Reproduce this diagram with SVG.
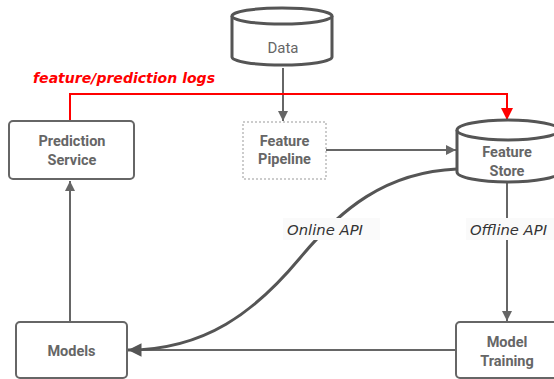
<svg xmlns="http://www.w3.org/2000/svg" width="554" height="379" viewBox="0 0 554 379">
<style>
.box{fill:#fff;stroke:#666;stroke-width:2}
.cyl{fill:#fff;stroke:#555;stroke-width:3}
.lbl{font-family:Roboto,"Liberation Sans",sans-serif;font-weight:bold;font-size:14.5px;fill:#666;text-anchor:middle}
.edge{fill:none;stroke:#666;stroke-width:2}
.edgeT{fill:none;stroke:#555;stroke-width:3}
.el{font-family:"DejaVu Sans","Liberation Sans",sans-serif;font-style:italic;font-size:14px;fill:#333}
</style>
<defs>
<marker id="ah" viewBox="0 0 10 10" refX="10" refY="5" markerWidth="5" markerHeight="5" orient="auto" markerUnits="strokeWidth"><path d="M0,0L10,5L0,10z" fill="#666"/></marker>
<marker id="ahb" viewBox="0 0 10 10" refX="10" refY="5" markerWidth="5" markerHeight="4.5" orient="auto" markerUnits="strokeWidth"><path d="M0,0L10,5L0,10z" fill="#555"/></marker>
<marker id="ahr" viewBox="0 0 10 10" refX="10" refY="5" markerWidth="6" markerHeight="6" orient="auto" markerUnits="strokeWidth"><path d="M0,0L10,5L0,10z" fill="#f00"/></marker>
</defs>
<g id="connectors">
<path class="edge" d="M283,68 V121" marker-end="url(#ah)"/>
<path class="edge" d="M326,150 H456" marker-end="url(#ah)"/>
<path fill="none" stroke="#f00" stroke-width="2" d="M70,121 V94 H507 V120" marker-end="url(#ahr)"/>
<path class="edge" d="M507,182 V321" marker-end="url(#ah)"/>
<path class="edge" d="M456,350 H130"/>
<path class="edgeT" d="M457,169 C385,172 340,210 300,258 C255,312 205,350 128,350" marker-end="url(#ahb)"/>
<path class="edge" d="M70,322 V181" marker-end="url(#ah)"/>
<rect x="283" y="218" width="97" height="22" fill="#fafafa"/>
<text class="el" x="287" y="235" textLength="76" lengthAdjust="spacingAndGlyphs">Online API</text>
<rect x="466" y="218" width="88" height="22" fill="#fafafa"/>
<text class="el" x="470" y="235" textLength="77" lengthAdjust="spacingAndGlyphs">Offline API</text>
<text x="33" y="83" font-family="'DejaVu Sans','Liberation Sans',sans-serif" font-weight="bold" font-style="italic" font-size="14" textLength="182" lengthAdjust="spacingAndGlyphs" fill="#f00">feature/prediction logs</text>
</g>
<g id="data">
<path class="cyl" d="M232,16 V57 A50,8 0 0 0 332,57 V16"/>
<ellipse class="cyl" cx="282" cy="16" rx="50" ry="8"/>
<text x="283" y="53" font-family="Roboto,'Liberation Sans',sans-serif" font-size="15" fill="#666" text-anchor="middle">Data</text>
</g>
<g id="feature-pipeline">
<rect x="243" y="122" width="83" height="57" fill="#fff" stroke="#999" stroke-width="1" stroke-dasharray="2,2"/>
<text class="lbl" x="284.5" y="146">Feature</text>
<text class="lbl" x="284.5" y="164">Pipeline</text>
</g>
<g id="feature-store">
<path class="cyl" d="M457,130 V172 A51,10 0 0 0 559,172 V130"/>
<ellipse class="cyl" cx="508" cy="130" rx="51" ry="10"/>
<text class="lbl" x="507" y="157">Feature</text>
<text class="lbl" x="507" y="176">Store</text>
</g>
<g id="prediction-service">
<rect class="box" x="9" y="121" width="125" height="58" rx="4"/>
<text class="lbl" x="72" y="146">Prediction</text>
<text class="lbl" x="72" y="165">Service</text>
</g>
<g id="models">
<rect class="box" x="16" y="322" width="111" height="56" rx="4"/>
<text class="lbl" x="71.5" y="356">Models</text>
</g>
<g id="model-training">
<rect class="box" x="456" y="322" width="106" height="56" rx="4"/>
<text class="lbl" x="507" y="347">Model</text>
<text class="lbl" x="507" y="366">Training</text>
</g>
</svg>
